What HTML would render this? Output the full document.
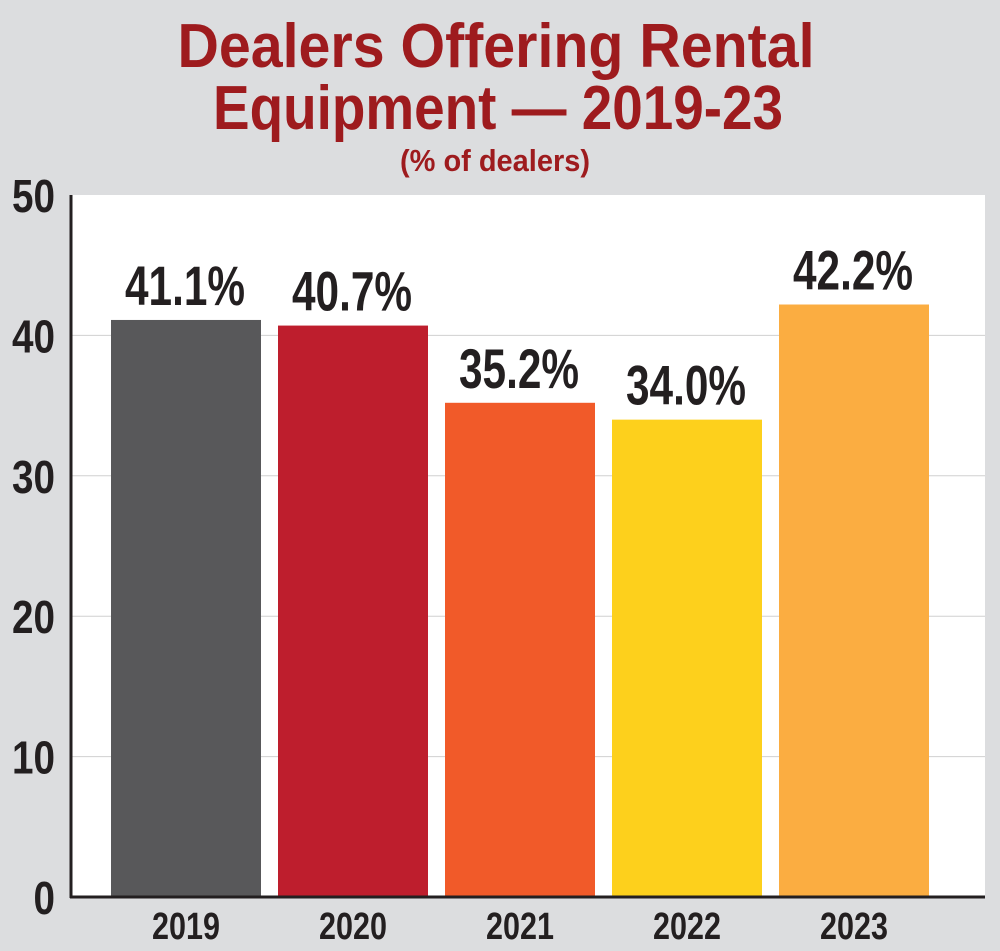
<!DOCTYPE html>
<html><head><meta charset="utf-8"><style>
body{margin:0;background:#dcdddf;}
svg{display:block;font-family:"Liberation Sans Narrow","Liberation Sans",sans-serif;font-weight:bold;}
</style></head><body>
<svg id="c" width="1000" height="951" viewBox="0 0 1000 951">
<rect x="0" y="0" width="1000" height="951" fill="#dcdddf"/>
<text x="496" y="67" text-anchor="middle" font-size="62" fill="#9e1b1e" textLength="637" lengthAdjust="spacingAndGlyphs">Dealers Offering Rental</text>
<text x="498" y="129" text-anchor="middle" font-size="62" fill="#9e1b1e" textLength="570" lengthAdjust="spacingAndGlyphs">Equipment — 2019-23</text>
<text x="495" y="171" text-anchor="middle" font-size="31" fill="#9e1b1e" textLength="190" lengthAdjust="spacingAndGlyphs">(% of dealers)</text>
<rect x="71" y="195" width="914" height="702" fill="#ffffff"/>
<g id="grid"></g><g id="bars"></g><g id="labels"></g>
<line x1="71" y1="195" x2="71" y2="898" stroke="#231f20" stroke-width="3"/>
<line x1="70" y1="897" x2="985" y2="897" stroke="#231f20" stroke-width="3"/>
</svg>
<script>
const categories=["2019","2020","2021","2022","2023"];
const values=[41.1,40.7,35.2,34.0,42.2];
const valueLabels=["41.1%","40.7%","35.2%","34.0%","42.2%"];
const colors=["#58585a","#be1e2d","#f15a29","#fdd01c","#fbad41"];
const yTicks=[0,10,20,30,40,50];
const NS="http://www.w3.org/2000/svg";
const y0=897,pxPerUnit=14.04;
function y(v){return y0-v*pxPerUnit;}
function xL(i){return 111+i*167;}
const bw=150;
function mk(tag,attrs,parent){const e=document.createElementNS(NS,tag);for(const k in attrs)e.setAttribute(k,attrs[k]);parent.appendChild(e);return e;}
const grid=document.getElementById('grid'),bars=document.getElementById('bars'),labels=document.getElementById('labels');
yTicks.forEach(t=>{
  if(t>0&&t<50){const l=mk('line',{x1:72,x2:985,y1:y(t),y2:y(t),stroke:'#d0d0d0','stroke-width':1},grid);
  
  }
  const w=String(t).length*21.5;
  const tx=mk('text',{x:55,y:y(t)+17,'text-anchor':'end','font-size':46,fill:'#231f20',textLength:w,lengthAdjust:'spacingAndGlyphs'},labels);
  tx.textContent=t;
  
  
});
categories.forEach((c,i)=>{
  const r=mk('rect',{x:xL(i),y:y(values[i]),width:bw,height:y0-y(values[i]),fill:colors[i]},bars);
  
  
  const v=mk('text',{x:xL(i)+bw/2-1,y:y(values[i])-15,'text-anchor':'middle','font-size':56,fill:'#231f20',textLength:120,lengthAdjust:'spacingAndGlyphs'},labels);
  v.textContent=valueLabels[i];
  
  
  const xt=mk('text',{x:xL(i)+bw/2,y:939,'text-anchor':'middle','font-size':38,fill:'#231f20',textLength:68,lengthAdjust:'spacingAndGlyphs'},labels);
  xt.textContent=c;
  
  
});
</script>
</body></html>
